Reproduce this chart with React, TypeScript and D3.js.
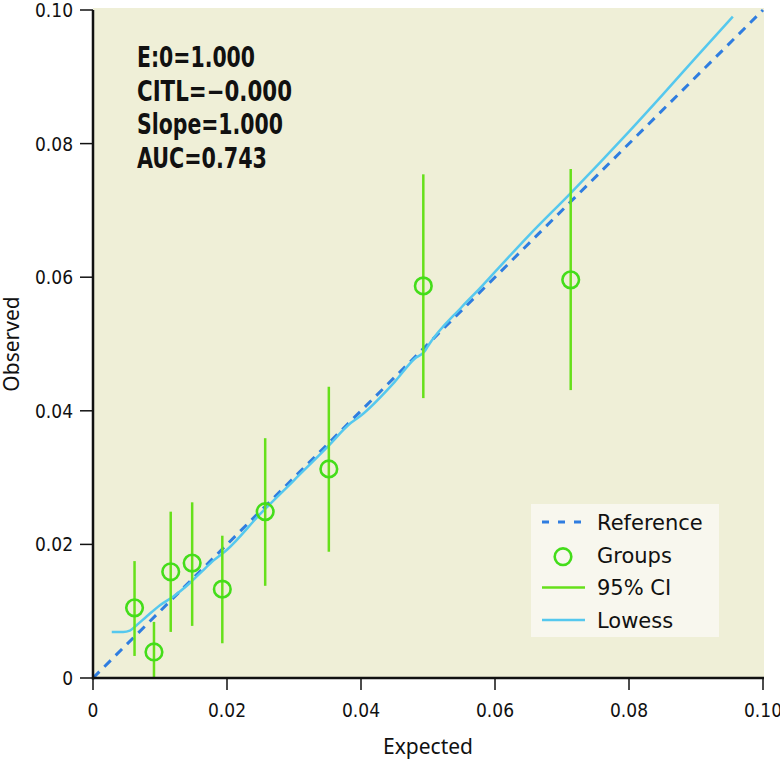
import React from "react";
import * as d3 from "d3";

const xTicks = [0, 0.02, 0.04, 0.06, 0.08, 0.1];
const yTicks = [0, 0.02, 0.04, 0.06, 0.08, 0.1];
const xTickLabels = ["0", "0.02", "0.04", "0.06", "0.08", "0.10"];
const yTickLabels = ["0", "0.02", "0.04", "0.06", "0.08", "0.10"];

const groupExpected = [0.0062, 0.0091, 0.0116, 0.0148, 0.0193, 0.0257, 0.0352, 0.0493, 0.0713];
const groupObserved = [0.0105, 0.0039, 0.0159, 0.0172, 0.0133, 0.0249, 0.0313, 0.0587, 0.0596];
const ciLower = [0.0033, 0.0, 0.0069, 0.0078, 0.0052, 0.0138, 0.0189, 0.0419, 0.0431];
const ciUpper = [0.0175, 0.0084, 0.0249, 0.0263, 0.0213, 0.0359, 0.0436, 0.0754, 0.0762];

const lowessX = [0.0028, 0.0045, 0.0055, 0.0065, 0.008, 0.01, 0.012, 0.014, 0.016, 0.018, 0.02, 0.025, 0.03, 0.035, 0.0385, 0.04, 0.045, 0.048, 0.0495, 0.05, 0.055, 0.0578, 0.06, 0.065, 0.0713, 0.0757, 0.08, 0.085, 0.09, 0.0955];
const lowessY = [0.0069, 0.0069, 0.0071, 0.0079, 0.0092, 0.0109, 0.0122, 0.0138, 0.0157, 0.0176, 0.0192, 0.0246, 0.0296, 0.0346, 0.0382, 0.0393, 0.0443, 0.0478, 0.0489, 0.0497, 0.0555, 0.0584, 0.0608, 0.0662, 0.0726, 0.0772, 0.0818, 0.0873, 0.0929, 0.099];

const statsLines = ["E:0=1.000", "CITL=\u22120.000", "Slope=1.000", "AUC=0.743"];
const statsWidths = [118, 155, 146, 130];
const legendLabels = ["Reference", "Groups", "95% CI", "Lowess"];

const BG = "#efefd7";
const GREEN = "#66e01a";
const CIRCLE = "#44dd1a";
const LOWESS = "#55c8ee";
const REF = "#2f7de0";
const condensed = "'DejaVu Sans Condensed', 'Liberation Sans Narrow', sans-serif";
const regular = "'Noto Sans', 'Open Sans', sans-serif";
const legendFont = "'DejaVu Sans', 'Noto Sans', sans-serif";

export default function App() {
  const W = 780, H = 763;
  const x = d3.scaleLinear().domain([0, 0.1]).range([93, 763]);
  const y = d3.scaleLinear().domain([0, 0.1]).range([678, 10]);
  const line = d3.line<number>().x((d, i) => x(lowessX[i])).y((d, i) => y(lowessY[i])).curve(d3.curveMonotoneX);

  return (
    <svg width={W} height={H} style={{ position: "absolute", left: 0, top: 0 }}>
      <rect x={x(0)} y={y(0.1) - 2} width={x(0.1) - x(0) + 1} height={y(0) - y(0.1) + 2} fill={BG} />
      {/* stats */}
      {statsLines.map((s, i) => (
        <text key={s} x={137} y={67 + i * 33.6} fontFamily={condensed} fontWeight="bold" fontSize={28} fill="#111"
          textLength={statsWidths[i]} lengthAdjust="spacingAndGlyphs">
          {s}
        </text>
      ))}
      {/* reference */}
      <line x1={x(0)} y1={y(0)} x2={x(0.1)} y2={y(0.1)} stroke={REF} strokeWidth={3} strokeDasharray="9,7" />
      {/* lowess */}
      <path d={line(lowessX) || ""} fill="none" stroke={LOWESS} strokeWidth={2.5} />
      {/* CI */}
      {groupExpected.map((e, i) => (
        <line key={"ci" + i} x1={x(e)} x2={x(e)} y1={y(ciLower[i])} y2={y(ciUpper[i])} stroke={GREEN} strokeWidth={2.5} />
      ))}
      {groupExpected.map((e, i) => (
        <circle key={"g" + i} cx={x(e)} cy={y(groupObserved[i])} r={8.3} fill="none" stroke={CIRCLE} strokeWidth={2.6} />
      ))}
      {/* axes */}
      <line x1={x(0)} x2={x(0)} y1={y(0.1)} y2={y(0) + 1.5} stroke="#111" strokeWidth={2.5} />
      <line x1={x(0) - 1} x2={x(0.1) + 1} y1={y(0)} y2={y(0)} stroke="#111" strokeWidth={2.5} />
      {yTicks.map((t, i) => (
        <g key={"yt" + i}>
          <line x1={x(0) - 13} x2={x(0)} y1={y(t)} y2={y(t)} stroke="#111" strokeWidth={1.5} />
          <text x={73} y={y(t) + 7} textAnchor="end" fontFamily={condensed} fontSize={19} fill="#111">
            {yTickLabels[i]}
          </text>
        </g>
      ))}
      {xTicks.map((t, i) => (
        <g key={"xt" + i}>
          <line x1={x(t)} x2={x(t)} y1={y(0)} y2={y(0) + 12} stroke="#111" strokeWidth={1.5} />
          <text x={x(t)} y={717} textAnchor="middle" fontFamily={condensed} fontSize={19} fill="#111">
            {xTickLabels[i]}
          </text>
        </g>
      ))}
      <text x={428} y={754} textAnchor="middle" fontFamily={regular} fontSize={21} fill="#111">Expected</text>
      <text transform="translate(19,344) rotate(-90)" textAnchor="middle" fontFamily={regular} fontSize={21} fill="#111">Observed</text>
      {/* legend */}
      <rect x={531} y={504} width={188} height={133} fill="#f8f7ee" />
      {legendLabels.map((l, i) => {
        const yy = 522 + i * 32.7;
        return (
          <g key={l}>
            {i === 0 && <line x1={542} x2={585} y1={yy} y2={yy} stroke={REF} strokeWidth={3} strokeDasharray="7,9" />}
            {i === 1 && <circle cx={563} cy={yy + 2} r={8.3} fill="none" stroke={CIRCLE} strokeWidth={2.6} />}
            {i === 2 && <line x1={542} x2={585} y1={yy} y2={yy} stroke={GREEN} strokeWidth={2.5} />}
            {i === 3 && <line x1={542} x2={585} y1={yy} y2={yy} stroke={LOWESS} strokeWidth={2.5} />}
            <text x={597} y={yy + 8} fontFamily={legendFont} fontSize={21} fill="#111">{l}</text>
          </g>
        );
      })}
    </svg>
  );
}
